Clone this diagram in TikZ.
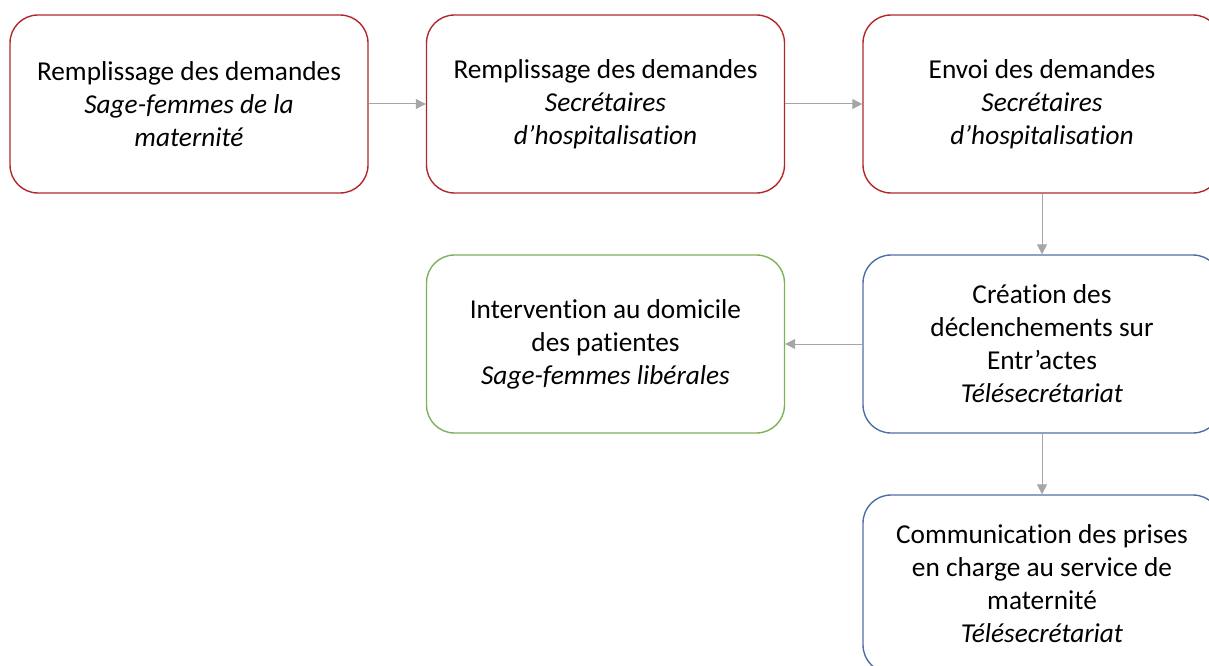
\documentclass[tikz,border=0pt]{standalone}
\usepackage{fontspec}
\setmainfont{Carlito}[Ligatures=NoCommon]
\usetikzlibrary{arrows.meta}

\definecolor{redline}{HTML}{B0282C}
\definecolor{blueline}{HTML}{4E6FA6}
\definecolor{greenline}{HTML}{7DB158}
\definecolor{flowgray}{HTML}{A6A6A6}

\begin{document}
\begin{tikzpicture}[x=1pt,y=1pt,
		stage/.style={draw, line width=1.4pt, rounded corners=28pt, minimum width=358pt, minimum height=178pt, align=center, inner sep=0pt, font=\fontsize{27.3}{33}\selectfont},
		flow/.style={draw=flowgray, line width=1pt, -{Triangle[length=10pt,width=10pt]}, fill=flowgray}]
		\def\colone{189}
		\def\coltwo{605.5}
		\def\colthree{1042}
		\def\rowone{-104}
		\def\rowtwo{-344}
		\def\rowthree{-584}
		
		\useasboundingbox (0,0) rectangle (1209,-666);
		
		\node[stage, draw=redline] (FillMidwives) at (\colone,\rowone) {Remplissage des demandes\\ \textit{Sage-femmes de la}\\ \textit{maternité}};
		\node[stage, draw=redline] (FillSecretaries) at (\coltwo,\rowone) {Remplissage des demandes\\ \textit{Secrétaires}\\ \textit{d’hospitalisation}};
		\node[stage, draw=redline] (Send) at (\colthree,\rowone) {Envoi des demandes\\ \textit{Secrétaires}\\ \textit{d’hospitalisation}};
		\node[stage, draw=blueline] (Create) at (\colthree,\rowtwo) {Création des\\ déclenchements sur\\ Entr’actes\\ \textit{Télésecrétariat}};
		\node[stage, draw=greenline] (Home) at (\coltwo,\rowtwo) {Intervention au domicile\\ des patientes\\ \textit{Sage-femmes libérales}};
		\node[stage, draw=blueline] (Report) at (\colthree,\rowthree) {Communication des prises\\ en charge au service de\\ maternité\\ \textit{Télésecrétariat}};
		
		\draw[flow] (FillMidwives) -- (FillSecretaries);
		\draw[flow] (FillSecretaries) -- (Send);
		\draw[flow] (Send) -- (Create);
		\draw[flow] (Create) -- (Home);
		\draw[flow] (Create) -- (Report);
	\end{tikzpicture}
\end{document}
